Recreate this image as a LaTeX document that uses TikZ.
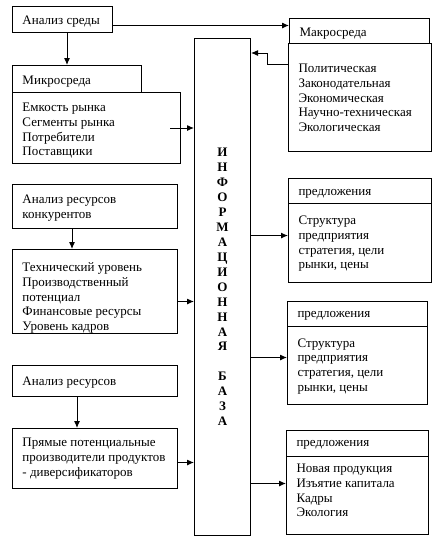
\documentclass[tikz,border=0pt]{standalone}
\usepackage{fontspec}
\setmainfont{Liberation Serif}
\usetikzlibrary{arrows.meta}
% box text: height, text width, first baseline from top, text
\newcommand\bxt[4]{\parbox[c][#1][t]{#2}{\raggedright\rule{0pt}{#3}#4}}
\tikzset{
  bx/.style={draw, rectangle, anchor=north west, inner xsep=7.5pt, inner ysep=0pt,
    font=\fontsize{9.75}{11.1}\selectfont, line width=0.75pt},
  arr/.style={-{Latex[length=5.25pt,width=4.5pt]}, line width=0.75pt}
}
\begin{document}
\begin{tikzpicture}[x=0.75pt,y=-0.75pt]
\useasboundingbox (0,0) rectangle (443,543);
% left column
\node[bx] (sreda) at (12,6) {\bxt{19.5pt}{60pt}{13.5pt}{Анализ среды}};
\node[bx] (mikroH) at (12,65) {\bxt{20.25pt}{81.75pt}{14.25pt}{Микросреда}};
\node[bx] (mikroB) at (12,92) {\bxt{53.25pt}{111pt}{14.25pt}
  {Емкость рынка\\Сегменты рынка\\Потребители\\Поставщики}};
\node[bx] (konk) at (12,184) {\bxt{33pt}{108.75pt}{14.25pt}
  {Анализ ресурсов\\конкурентов}};
\node[bx] (konkB) at (12,249) {\bxt{63pt}{108.75pt}{16.5pt}
  {Технический уровень\\Производственный\\потенциал\\Финансовые ресурсы\\Уровень кадров}};
\node[bx] (res) at (12,365) {\bxt{23.25pt}{108.75pt}{15pt}{Анализ ресурсов}};
\node[bx] (resB) at (12,428) {\bxt{45pt}{108.75pt}{13.75pt}
  {Прямые потенциальные\\производители продуктов\\- диверсификаторов}};
% central
\node[draw, rectangle, anchor=north west, line width=0.75pt, minimum width=42pt,
  minimum height=372.75pt, inner sep=0pt, align=center,
  font=\fontsize{9.75}{11.2}\selectfont\bfseries] (info) at (194,38)
  {И\\Н\\Ф\\О\\Р\\М\\А\\Ц\\И\\О\\Н\\Н\\А\\Я\\[11.2pt]Б\\А\\З\\А};
% right column
\node[bx] (makroH) at (289,18) {\bxt{18.75pt}{90pt}{13.5pt}{Макросреда}};
\node[bx] (makroB) at (288,43) {\bxt{81pt}{92.25pt}{21.75pt}
  {Политическая\\Законодательная\\Экономическая\\Научно-техническая\\Экологическая}};
\node[bx] (p1H) at (288,178) {\bxt{18.75pt}{92.25pt}{12.5pt}{предложения}};
\node[bx] (p1B) at (288,203) {\bxt{59.25pt}{92.25pt}{15.75pt}
  {Структура\\предприятия\\стратегия, цели\\рынки, цены}};
\node[bx] (p2H) at (287,301) {\bxt{18.75pt}{90pt}{12pt}{предложения}};
\node[bx] (p2B) at (287,326) {\bxt{58.5pt}{90pt}{15.5pt}
  {Структура\\предприятия\\стратегия, цели\\рынки, цены}};
\node[bx] (p3H) at (286,430) {\bxt{19.5pt}{91.5pt}{12pt}{предложения}};
\node[bx] (p3B) at (286,456) {\bxt{58.5pt}{91.5pt}{12pt}
  {Новая продукция\\Изъятие капитала\\Кадры\\Экология}};
% connectors
\coordinate (s1) at ([yshift=-4.5pt]sreda.east);
\draw[arr] (s1) -- (s1 -| makroH.west);
\draw[arr] ([xshift=41.25pt]sreda.south west) -- ([xshift=41.25pt]mikroH.north west);
\coordinate (m1) at ([xshift=-8pt]mikroB.east);
\draw[arr] (m1) -- (m1 -| info.west);
\coordinate (mk1) at ([yshift=-15.75pt]makroB.north west);
\coordinate (mk2) at ([yshift=-7.5pt]makroB.north west);
\draw[arr] (mk1) -- ++(-21,0) |- (mk2 -| info.east);
\draw[arr] ([xshift=45pt]konk.south west) -- ([xshift=45pt]konkB.north west);
\coordinate (k1) at ([yshift=-7.5pt]konkB.east);
\draw[arr] (k1) -- (k1 -| info.west);
\draw[arr] ([xshift=48.75pt]res.south west) -- ([xshift=48.75pt]resB.north west);
\coordinate (r1) at ([yshift=-3pt]resB.east);
\draw[arr] (r1) -- (r1 -| info.west);
\coordinate (q1) at ([yshift=5.6pt]p1B.west);
\draw[arr] (q1 -| info.east) -- (q1);
\coordinate (q2) at ([yshift=6pt]p2B.west);
\draw[arr] (q2 -| info.east) -- (q2);
\coordinate (q3) at ([yshift=9pt]p3B.west);
\draw[arr] (q3 -| info.east) -- (q3);
\end{tikzpicture}
\end{document}
